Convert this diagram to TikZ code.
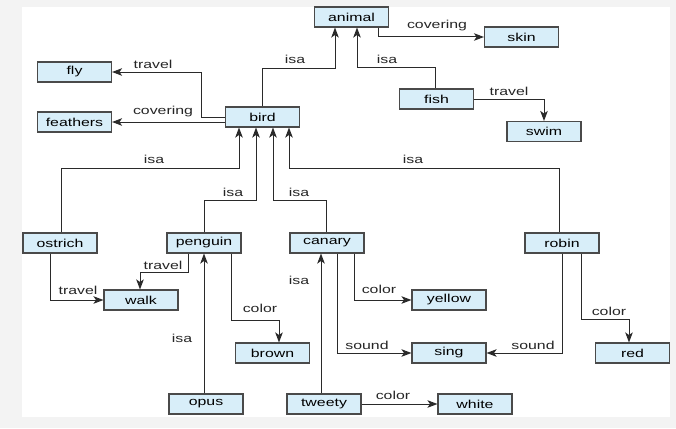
\documentclass[tikz,border=0pt]{standalone}
\usepackage{fontspec}
\setmainfont[FakeStretch=1.38]{Liberation Sans}
\usetikzlibrary{arrows.meta}
\definecolor{boxfill}{HTML}{D8EEF9}
\definecolor{boxline}{HTML}{4A4A4A}
\definecolor{wire}{HTML}{2A2A2A}
\definecolor{outerbg}{HTML}{F3F3F3}
\tikzset{
  concept/.style={draw=boxline, line width=1.1pt, fill=boxfill, minimum width=74pt, minimum height=20pt, inner sep=0pt, font=\fontsize{11.5}{13}\selectfont},
  rel/.style={draw=wire, line width=1pt, -{Stealth[length=10pt,width=7.5pt,inset=2.5pt]}},
  lbl/.style={inner sep=0pt, font=\fontsize{11.5}{13}\selectfont, text=black!85}
}
\begin{document}
\begin{tikzpicture}[x=1pt,y=-1pt]
\fill[outerbg] (0,0) rectangle (676,428);
\fill[white] (22,7) rectangle (670,417);
\useasboundingbox (0,0) rectangle (676,428);

\node[concept] (animal) at (351.5,17) {animal};
\node[concept] (skin) at (521.5,37) {skin};
\node[concept] (fish) at (436.5,99) {fish};
\node[concept] (swim) at (544,131.5) {swim};
\node[concept] (fly) at (74.5,72) {fly};
\node[concept] (feathers) at (74.5,122) {feathers};
\node[concept] (bird) at (262.5,117) {bird};
\node[concept] (ostrich) at (60,243) {ostrich};
\node[concept] (penguin) at (204,243) {penguin};
\node[concept] (canary) at (327,243) {canary};
\node[concept] (robin) at (562,243) {robin};
\node[concept] (walk) at (141,300) {walk};
\node[concept] (yellow) at (449,300) {yellow};
\node[concept] (brown) at (272.5,353) {brown};
\node[concept] (sing) at (449,353) {sing};
\node[concept] (red) at (632.5,353) {red};
\node[concept] (opus) at (206,404) {opus};
\node[concept] (tweety) at (324,404) {tweety};
\node[concept] (white) at (475,404) {white};

% bird isa animal
\draw[rel] (bird.north) |- (335,68) -- ([xshift=-16.5pt]animal.south);
\node[lbl] (l1) at (295,59) {isa};
% fish isa animal
\draw[rel] ([xshift=-1.5pt]fish.north) |- (357,67) -- ([xshift=5.5pt]animal.south);
\node[lbl] (l2) at (387,59) {isa};
% animal covering skin
\draw[rel] ([xshift=26.5pt]animal.south) |- (skin.west);
\node[lbl] (l3) at (437,26) {covering};
% fish travel swim
\draw[rel] (fish.east) -| (swim.north);
\node[lbl] (l4) at (509,91) {travel};
% bird travel fly
\draw[rel] (bird.west) -- (201,117) |- (fly.east);
\node[lbl] (l5) at (153,64) {travel};
% bird covering feathers
\draw[rel] ([yshift=-5pt]bird.west) -- (feathers.east);
\node[lbl] (l6) at (163,112) {covering};
% ostrich isa bird
\draw[rel] ([xshift=1pt]ostrich.north) |- (239,168) -- ([xshift=-23.5pt]bird.south);
\node[lbl] (l7) at (154,159) {isa};
% penguin isa bird
\draw[rel] (penguin.north) |- (256,200) -- ([xshift=-6.5pt]bird.south);
\node[lbl] (l8) at (233,192) {isa};
% canary isa bird
\draw[rel] ([xshift=-1pt]canary.north) |- (273,200) -- ([xshift=10.5pt]bird.south);
\node[lbl] (l9) at (299,192) {isa};
% robin isa bird
\draw[rel] ([xshift=-3pt]robin.north) |- (289,168) -- ([xshift=26.5pt]bird.south);
\node[lbl] (l10) at (413,159) {isa};
% ostrich travel walk
\draw[rel] ([xshift=-10pt]ostrich.south) |- (walk.west);
\node[lbl] (l11) at (78,290) {travel};
% penguin travel walk
\draw[rel] ([xshift=-16pt]penguin.south) |- (140,272) -- ([xshift=-1pt]walk.north);
\node[lbl] (l12) at (163,265) {travel};
% penguin color brown
\draw[rel] ([xshift=27pt]penguin.south) |- (279,320) -- ([xshift=6.5pt]brown.north);
\node[lbl] (l13) at (260,308) {color};
% opus isa penguin
\draw[rel] ([xshift=-2pt]opus.north) -- (penguin.south);
\node[lbl] (l14) at (182,338) {isa};
% tweety isa canary
\draw[rel] ([xshift=-3pt]tweety.north) -- ([xshift=-6pt]canary.south);
\node[lbl] (l15) at (299,280) {isa};
% canary color yellow
\draw[rel] ([xshift=27pt]canary.south) |- (yellow.west);
\node[lbl] (l16) at (379,289) {color};
% canary sound sing
\draw[rel] ([xshift=10pt]canary.south) |- (sing.west);
\node[lbl] (l17) at (367,345) {sound};
% robin sound sing
\draw[rel] (robin.south) |- (sing.east);
\node[lbl] (l18) at (533,345) {sound};
% robin color red
\draw[rel] ([xshift=19pt]robin.south) |- (629,319) -- ([xshift=-3.5pt]red.north);
\node[lbl] (l19) at (609,311) {color};
% tweety color white
\draw[rel] (tweety.east) -- (white.west);
\node[lbl] (l20) at (393,395) {color};
\end{tikzpicture}
\end{document}
